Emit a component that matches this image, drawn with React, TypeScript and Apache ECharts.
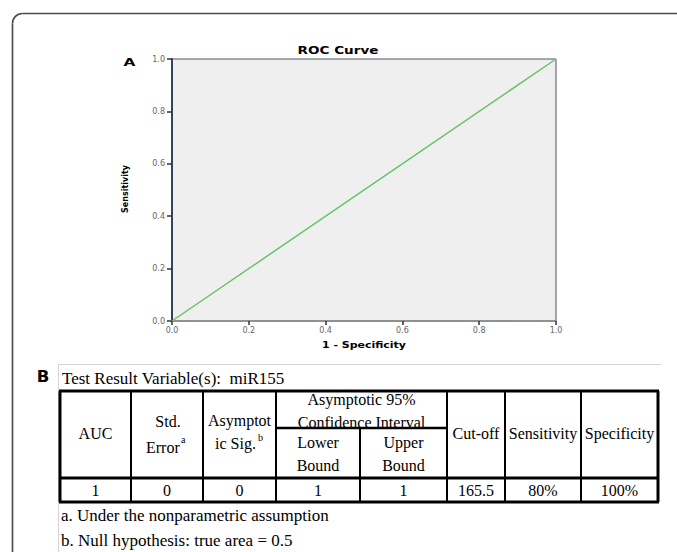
import React, { useEffect, useRef } from "react";
import * as echarts from "echarts";

// ---- data ----
const rocX = [0, 1];
const rocY = [0, 1];
const chartTitle = "ROC Curve";
const xName = "1 - Specificity";
const yName = "Sensitivity";
const panelA = "A";
const panelB = "B";
const tableCaption = "Test Result Variable(s):  miR155";
const headAUC = ["AUC"];
const headStdErr = ["Std.", "Error"];
const headSig = ["Asymptot", "ic Sig."];
const headCI = ["Asymptotic 95%", "Confidence Interval"];
const headLower = ["Lower", "Bound"];
const headUpper = ["Upper", "Bound"];
const headRest = ["Cut-off", "Sensitivity", "Specificity"];
const superA = "a";
const superB = "b";
const dataRow = ["1", "0", "0", "1", "1", "165.5", "80%", "100%"];
const footnotes = ["a. Under the nonparametric assumption", "b. Null hypothesis: true area = 0.5"];

const SERIF = "'Liberation Serif', 'Times New Roman', serif";
const SANS = "'DejaVu Sans', Verdana, sans-serif";

export default function App() {
  const ref = useRef<HTMLDivElement>(null);
  useEffect(() => {
    document.body.style.margin = "0";
    const chart = echarts.init(ref.current!, null, { renderer: "svg" });
    const cols = [60, 131, 203, 276, 360, 447, 505, 581, 658];
    const yTop = 391, ySub = 428, yHead = 478, yData = 502;
    const cx = (i: number) => (cols[i] + cols[i + 1]) / 2;
    const g: any[] = [];
    const txt = (text: string, x: number, y: number, font: string, align = "center", el: any = {}) =>
      g.push({ type: "text", x, y, z: 5, ...el, style: { text, font, fill: "#000", align, verticalAlign: "middle" } });
    const ln = (x1: number, y1: number, x2: number, y2: number, w: number, c = "#000") =>
      g.push({ type: "line", z: 10, shape: { x1, y1, x2, y2 }, style: { stroke: c, lineWidth: w } });

    // outer frame (top + left with rounded corner)
    const fr = 10, fx = 12.5, fy = 13.5;
    ln(fx + fr, fy, 700, fy, 1.6, "#484848");
    ln(fx, fy + fr, fx, 600, 1.6, "#484848");
    g.push({
      type: "arc", z: 10,
      shape: { cx: fx + fr, cy: fy + fr, r: fr, startAngle: Math.PI, endAngle: Math.PI * 1.5, clockwise: true },
      style: { stroke: "#484848", lineWidth: 1.6, fill: "none" },
    });

    // chart texts
    txt(chartTitle, 338, 50, `bold 11px ${SANS}`, "center", { scaleX: 1.23 });
    txt(panelA, 129.5, 62, `bold 11px ${SANS}`, "center", { scaleX: 1.4 });
    txt(xName, 364, 345, `bold 9px ${SANS}`, "center", { scaleX: 1.22 });
    txt(yName, 125, 189, `bold 8px ${SANS}`, "center", { rotation: Math.PI / 2, scaleY: 1.15 });

    // table
    txt(panelB, 43, 377, `bold 15px ${SANS}`, "center", { scaleX: 1.1 });
    txt(tableCaption, 62, 378, `17px ${SERIF}`, "left");
    ln(58, 364.5, 661, 364.5, 1, "#d4d4d4");
    ln(58.5, 364, 58.5, 552, 1, "#d4d4d4");

    const F = `16px ${SERIF}`;
    txt(headAUC[0], cx(0), 433, F);
    txt(headStdErr[0], cx(1) + 1, 421, F);
    txt(headStdErr[1], 146, 447, F, "left");
    txt(superA, 181, 439, `10px ${SERIF}`, "left");
    txt(headSig[0], cx(2), 420, F);
    txt(headSig[1], 215, 443, F, "left");
    txt(superB, 258, 437, `10px ${SERIF}`, "left");
    const ciX = (cols[3] + cols[5]) / 2;
    txt(headCI[0], ciX, 399, F);
    txt(headCI[1], ciX, 422, F);
    txt(headLower[0], cx(3), 442, F);
    txt(headLower[1], cx(3), 465, F);
    txt(headUpper[0], cx(4), 442, F);
    txt(headUpper[1], cx(4), 465, F);
    headRest.forEach((h, i) => txt(h, cx(5 + i), 433, F));
    dataRow.forEach((v, i) => txt(v, cx(i), 490, F));
    footnotes.forEach((f, i) => txt(f, 61, 515 + i * 25, `17px ${SERIF}`, "left"));

    // table grid
    ln(cols[0] - 1, yTop, cols[8] + 1, yTop, 3);
    ln(cols[0] - 1, yHead, cols[8] + 1, yHead, 3);
    ln(cols[0] - 1, yData, cols[8] + 1, yData, 3);
    ln(cols[3], ySub, cols[5], ySub, 2.5);
    cols.forEach((x, i) => {
      const w = i === 0 || i === cols.length - 1 ? 3 : 2;
      if (i === 4) ln(x, ySub, x, yData, w);
      else ln(x, yTop, x, yData, w);
    });

    chart.setOption({
      animation: false,
      grid: {
        left: 172, top: 59, width: 384, height: 262,
        show: true, backgroundColor: "#efefef", borderColor: "#4e5366", borderWidth: 1,
      },
      xAxis: {
        type: "value", min: 0, max: 1, interval: 0.2,
        axisLine: { show: true, lineStyle: { color: "#8a8a8a", width: 1.5 } },
        axisTick: { show: true, length: 4, lineStyle: { color: "#333", width: 1.5 } },
        axisLabel: { fontSize: 8, color: "#666", margin: 5, fontFamily: SANS, formatter: (v: number) => v.toFixed(1) },
        splitLine: { show: false },
      },
      yAxis: {
        type: "value", min: 0, max: 1, interval: 0.2,
        axisLine: { show: true, lineStyle: { color: "#3a4259", width: 2 } },
        axisTick: { show: true, length: 5, lineStyle: { color: "#333", width: 1.5 } },
        axisLabel: { fontSize: 8, color: "#666", margin: 7, fontFamily: SANS, formatter: (v: number) => v.toFixed(1) },
        splitLine: { show: false },
      },
      series: [
        {
          type: "line",
          data: rocX.map((x, i) => [x, rocY[i]]),
          showSymbol: false,
          lineStyle: { color: "#66c466", width: 1.5 },
        },
      ],
      graphic: g,
    });
    return () => chart.dispose();
  }, []);
  return <div ref={ref} style={{ width: 677, height: 552 }} />;
}
